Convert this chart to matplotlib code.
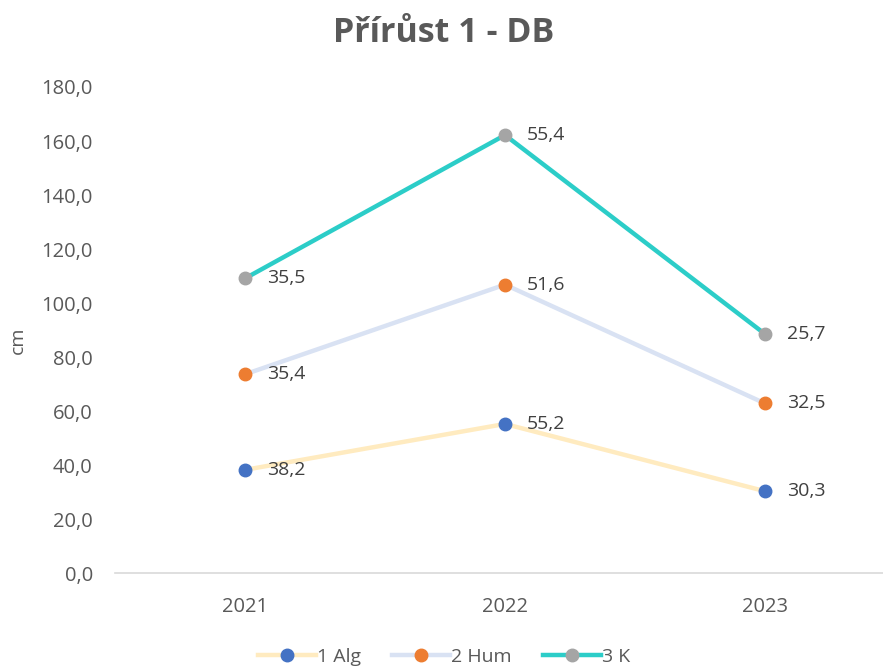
import matplotlib
matplotlib.use("Agg")
import matplotlib.pyplot as plt
from matplotlib.ticker import FuncFormatter
import numpy as np

plt.rcParams['font.family'] = ['Open Sans', 'DejaVu Sans']

years = ["2021", "2022", "2023"]
series_names = ["1 Alg", "2 Hum", "3 K"]
alg = [38.2, 55.2, 30.3]
hum = [35.4, 51.6, 32.5]
k = [35.5, 55.4, 25.7]

line_colors = ["#FFEBC0", "#D9E2F3", "#2CCDC8"]
marker_colors = ["#4472C4", "#ED7D31", "#A5A5A5"]

fig = plt.figure(figsize=(8.83, 6.66), dpi=100)
ax = fig.add_axes([115/883, 1-573/666, 780/883, (573-87)/666])

x = np.arange(len(years))
cum = np.zeros(len(years))
for name, vals, lc, mc in zip(series_names, [alg, hum, k], line_colors, marker_colors):
    cum = cum + np.array(vals)
    ax.plot(x, cum, color=lc, lw=3.2, marker='o', markersize=9,
            markerfacecolor=mc, markeredgecolor=mc, label=name, zorder=3, clip_on=False)
    for xi, yi, v in zip(x, cum, vals):
        ax.annotate(f"{v:.1f}".replace('.', ','), (xi, yi), xytext=(16, 0),
                    textcoords='offset points', ha='left', va='center',
                    fontsize=14, color='#404040')

ax.set_xlim(-0.5, 2.5)
ax.set_ylim(0, 180)
ax.set_yticks(np.arange(0, 181, 20))
ax.yaxis.set_major_formatter(FuncFormatter(lambda v, p: f"{v:.1f}".replace('.', ',')))
ax.set_xticks(x)
ax.set_xticklabels(years)
ax.tick_params(axis='both', length=0, labelsize=14.5, labelcolor='#595959')
ax.tick_params(axis='y', pad=16)
ax.tick_params(axis='x', pad=17)
for s in ['top', 'right', 'left']:
    ax.spines[s].set_visible(False)
ax.spines['bottom'].set_color('#D9D9D9')
ax.spines['bottom'].set_linewidth(1.2)

fig.text(18/883, 1-340/666, "cm", rotation=90, ha='center', va='center',
         fontsize=14, color='#595959')
fig.text(444/883, 1-33/666, "Přírůst 1 - DB", ha='center', va='center',
         fontsize=24.5, fontweight='bold', color='#595959')

leg = fig.legend(loc='center', bbox_to_anchor=(444/883, 1-657/666), ncol=3,
                 frameon=False, fontsize=14, handlelength=3.0, columnspacing=1.6,
                 handletextpad=0.05, labelcolor='#595959')

fig.savefig("out.png", dpi=100)
